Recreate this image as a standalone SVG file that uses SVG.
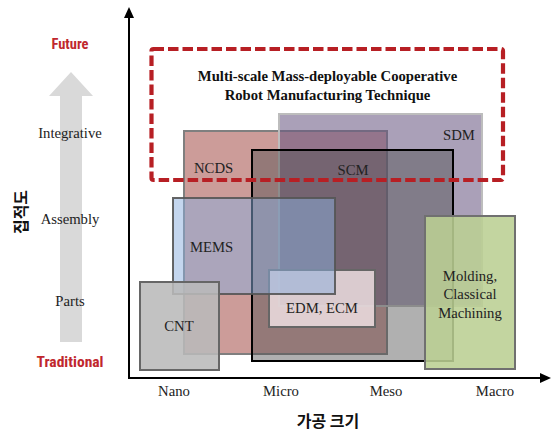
<svg xmlns="http://www.w3.org/2000/svg" width="552" height="432" viewBox="0 0 552 432">
  <style>
    .lbl { font-family: "Liberation Serif", "Times New Roman", serif; font-size: 14.7px; fill: #222; }
    .ttl { font-family: "Liberation Serif", "Times New Roman", serif; font-size: 14.7px; font-weight: bold; fill: #111; text-anchor: middle; }
    .mid { text-anchor: middle; }
    .red { font-family: "Liberation Sans Narrow", "Roboto Condensed", "Liberation Sans", sans-serif; font-weight: bold; font-size: 14px; fill: #c0272d; text-anchor: middle; }
    .kor { font-family: "Noto Sans CJK KR", "Noto Sans", sans-serif; font-weight: bold; font-size: 16px; fill: #111; text-anchor: middle; }
    .axis { stroke: #000; stroke-width: 2; fill: none; }
  </style>

  <rect width="552" height="432" fill="#ffffff"/>

  <!-- level scale arrow on the left -->
  <g id="level-arrow">
    <polygon points="71,72 93,96 82,96 82,342 60,342 60,96 49,96" fill="#d9d9d9"/>
    <text class="red" x="70" y="49" textLength="37" lengthAdjust="spacingAndGlyphs">Future</text>
    <text class="red" x="70" y="367" textLength="67" lengthAdjust="spacingAndGlyphs">Traditional</text>
    <text class="lbl mid" x="70" y="138">Integrative</text>
    <text class="lbl mid" x="70" y="224">Assembly</text>
    <text class="lbl mid" x="70" y="306">Parts</text>
    <text class="kor" transform="translate(27,212) rotate(-90)">집적도</text>
  </g>

  <!-- process regions -->
  <g id="ncds">
    <rect x="184" y="131" width="203" height="223" fill="#a24a46" fill-opacity="0.55" stroke="#7f7f7f" stroke-width="2"/>
  </g>
  <g id="sdm">
    <rect x="279" y="114" width="203" height="192" fill="#6a5882" fill-opacity="0.57" stroke="#bdbdbd" stroke-width="2"/>
  </g>
  <g id="scm">
    <rect x="252" y="150" width="201" height="211" fill="#505050" fill-opacity="0.45" stroke="#000" stroke-width="2"/>
  </g>
  <g id="edm">
    <rect x="269" y="270" width="106" height="57" fill="#f0e2e4" fill-opacity="0.82" stroke="#666" stroke-width="2"/>
  </g>
  <g id="mems">
    <rect x="173" y="198" width="162" height="96" fill="#89addd" fill-opacity="0.5" stroke="#555" stroke-width="2" stroke-opacity="0.9"/>
  </g>
  <g id="cnt">
    <rect x="140" y="282" width="79" height="88" fill="#bababa" fill-opacity="0.88" stroke="#666" stroke-width="2"/>
  </g>
  <g id="molding">
    <rect x="425" y="216" width="90" height="153" fill="#bbcf93" fill-opacity="0.88" stroke="#707070" stroke-width="2"/>
  </g>

  <!-- region labels -->
  <g id="region-labels">
    <text class="lbl" x="194" y="173">NCDS</text>
    <text class="lbl mid" x="353" y="175">SCM</text>
    <text class="lbl" x="443" y="140">SDM</text>
    <text class="lbl" x="190" y="252">MEMS</text>
    <text class="lbl mid" x="179" y="331">CNT</text>
    <text class="lbl mid" x="322" y="313">EDM, ECM</text>
    <text class="lbl mid" x="470" y="281">Molding,</text>
    <text class="lbl mid" x="470" y="299">Classical</text>
    <text class="lbl mid" x="470" y="318">Machining</text>
  </g>

  <!-- future target frame -->
  <g id="target">
    <rect x="151.5" y="49" width="351.5" height="131" rx="2" fill="none" stroke="#b71f24" stroke-width="4.2" stroke-dasharray="10.5 4"/>
    <text class="ttl" x="327.5" y="81">Multi-scale Mass-deployable Cooperative</text>
    <text class="ttl" x="327.5" y="100">Robot Manufacturing Technique</text>
  </g>

  <!-- axes -->
  <g id="axes">
    <path class="axis" d="M129,16 V378 H542"/>
    <polygon points="129,7 134,18 124,18" fill="#000"/>
    <polygon points="551,378 540,373 540,383" fill="#000"/>
    <text class="lbl mid" x="174" y="396">Nano</text>
    <text class="lbl mid" x="281" y="396">Micro</text>
    <text class="lbl mid" x="386" y="396">Meso</text>
    <text class="lbl mid" x="495" y="396">Macro</text>
    <text class="kor" x="328" y="427">가공 크기</text>
  </g>
</svg>
